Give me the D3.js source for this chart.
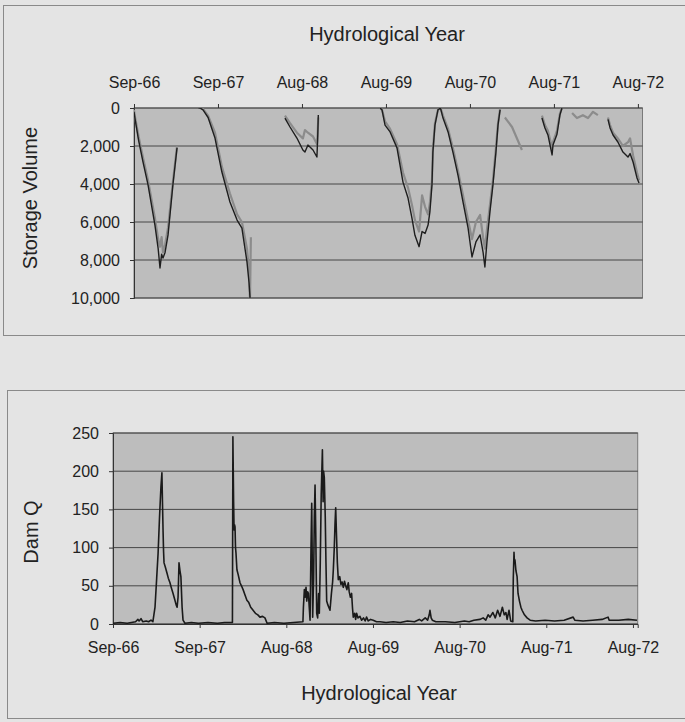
<!DOCTYPE html>
<html>
<head>
<meta charset="utf-8">
<script src="https://cdn.jsdelivr.net/npm/d3@7"></script>
<style>
    body { margin: 0; background: #e4e4e4; }
    text { font-family: "Liberation Sans", Arial, sans-serif; fill: #222; }
</style>
</head>
<body>
<div id="chart"></div>
<script>
// day index counted from 1 Sep 1966, one label every 365 rows
var tickDays = [0, 365, 730, 1095, 1460, 1825, 2190];
var tickLabels = ["Sep-66", "Sep-67", "Aug-68", "Aug-69", "Aug-70", "Aug-71", "Aug-72"];
var storageTicks = [0, 2000, 4000, 6000, 8000, 10000];
var damTicks = [0, 50, 100, 150, 200, 250];

// storage volume, two series (null = gap in record)
var storageDays = [0, 4, 20, 39, 61, 91, 105, 113, 120, 126, 135, 148, 169, 187, 190,
    280, 287, 300, 322, 352, 382, 417, 448, 469, 491, 500, 504, 508, 512,
    656, 678, 708, 734, 743, 756, 778, 795, 798, 801, 805,
    1070, 1078, 1091, 1113, 1143, 1169, 1191, 1208, 1221, 1239, 1252, 1265, 1278, 1286, 1295, 1299, 1308, 1321, 1332,
    1343, 1365, 1386, 1408, 1430, 1452, 1469, 1486, 1504, 1517, 1525, 1534, 1547, 1560, 1573, 1582, 1591, 1600,
    1612, 1643, 1686, 1700,
    1773, 1786, 1799, 1817, 1821, 1838, 1851, 1860, 1880,
    1904, 1925, 1951, 1973, 1995, 2016, 2030,
    2060, 2069, 2082, 2103, 2125, 2147, 2156, 2169, 2186, 2195];
var storageSim = [200, 530, 1700, 2840, 4050, 6160, 7400, 8420, 7700, 7900, 7600, 6680, 4050, 2100, null,
    0, 0, 100, 500, 1580, 3370, 4950, 5900, 6320, 8100, 9200, 9950, 10800, null,
    530, 1000, 1580, 2210, 2320, 1950, 2210, 2580, 1700, 370, null,
    0, 100, 900, 1260, 2100, 3900, 4740, 5800, 6700, 7300, 6500, 6600, 6160, 5470, 4050, 2320, 900, 100, 0,
    530, 1260, 2320, 3530, 4950, 6320, 7840, 7050, 6680, 7580, 8370, 7050, 5470, 4050, 2320, 900, 100, null,
    null, null, null, null,
    530, 1050, 1420, 2470, 1950, 1400, 370, 0, null,
    null, null, null, null, null, null, null,
    600, 1050, 1420, 1790, 2320, 2580, 2400, 2840, 3680, 3950];
var storageObs = [100, 450, 1500, 2600, 3800, 5800, 6900, 7300, 6800, 7600, 7200, 6300, 3900, 2000, null,
    0, 0, 50, 400, 1300, 3100, 4500, 5600, 6000, 7400, 8600, 10200, 6800, null,
    400, 800, 1300, 1600, 1160, 1300, 1500, 1900, 1400, 500, null,
    0, 100, 700, 1100, 1900, 3400, 4200, 5100, 5900, 6500, 4600, 5200, 5600, 5000, 3800, 2200, 800, 100, 0,
    400, 1100, 2100, 3300, 4600, 5900, 6900, 6000, 5630, 6800, 7400, 6400, 5100, 3800, 2100, 800, 50, null,
    500, 1000, 2210, null,
    400, 900, 1200, 2100, 1800, 1200, 300, 0, null,
    260, 530, 380, 530, 200, 380, null,
    500, 900, 1300, 1600, 2000, 1800, 1600, 2500, 3400, 3800];

// dam outflow
var damDays = [0, 30, 60, 95, 105, 110, 118, 125, 140, 150, 160, 168, 177, 184, 190, 196, 202, 206, 209, 211,
    213, 215, 220, 227, 233, 240, 246, 253, 260, 266, 270, 274, 278, 282, 286, 291, 295, 303, 330, 360,
    400, 440, 470, 503, 505, 508, 510, 512, 514, 516, 518, 522, 527, 535, 541, 548, 556, 564, 572, 580,
    590, 600, 610, 619, 630, 640, 649, 680, 720, 760, 800, 802, 806, 809, 813, 816, 820, 823, 827, 830,
    834, 837, 839, 841, 845, 848, 851, 854, 858, 862, 866, 869, 873, 877, 882, 885, 887, 890, 894, 897,
    900, 905, 914, 920, 925, 928, 932, 935, 938, 941, 945, 949, 955, 960, 965, 970, 975, 980, 985, 991,
    995, 1000, 1005, 1009, 1012, 1018, 1022, 1026, 1032, 1040, 1047, 1055, 1062, 1068, 1075, 1085, 1096, 1110, 1125, 1150,
    1180, 1210, 1240, 1270, 1290, 1300, 1315, 1325, 1332, 1335, 1340, 1345, 1360, 1400, 1440, 1480, 1500, 1520, 1545, 1559,
    1570, 1580, 1588, 1600, 1610, 1620, 1630, 1640, 1648, 1655, 1660, 1668, 1675, 1684, 1686, 1689, 1691, 1693, 1697, 1702,
    1706, 1712, 1718, 1723, 1733, 1744, 1757, 1780, 1820, 1860, 1900, 1938, 1945, 1980, 2020, 2060, 2085, 2090, 2130, 2170, 2207];
var damQ = [1, 2, 1, 3, 6, 4, 7, 3, 4, 3, 5, 3, 22, 60, 93, 140, 180, 198, 150, 120,
    95, 80, 75, 67, 60, 54, 47, 40, 32, 25, 22, 35, 80, 70, 62, 22, 5, 1, 2, 1,
    2, 1, 2, 2, 245, 160, 123, 130, 127, 100, 93, 71, 65, 54, 50, 45, 38, 31, 28, 22,
    18, 14, 12, 9, 10, 8, 1, 2, 1, 2, 3, 22, 45, 35, 48, 30, 42, 40, 20, 5,
    100, 158, 90, 9, 60, 140, 182, 120, 14, 8, 40, 14, 80, 170, 228, 160, 200, 192, 140, 80,
    30, 25, 18, 40, 55, 71, 100, 130, 152, 120, 80, 58, 62, 52, 55, 48, 56, 50, 45, 54,
    42, 35, 40, 20, 9, 14, 6, 14, 8, 10, 5, 8, 4, 9, 4, 6, 5, 3, 3, 2,
    3, 2, 4, 3, 6, 4, 8, 5, 12, 18, 8, 5, 3, 3, 2, 4, 3, 5, 6, 8,
    5, 12, 9, 15, 8, 18, 10, 22, 12, 15, 6, 18, 4, 3, 60, 94, 80, 84, 70, 62,
    40, 30, 22, 18, 12, 8, 5, 4, 5, 4, 5, 9, 5, 4, 5, 6, 9, 5, 5, 6, 5];

var width = 685, height = 722;
var plotFill = "#bdbdbd";

var svg = d3.select("#chart").append("svg")
    .attr("width", width)
    .attr("height", height);

function drawFrame(x, y, w, h) {
    svg.append("rect")
        .attr("x", x).attr("y", y)
        .attr("width", w).attr("height", h)
        .attr("fill", "none")
        .attr("stroke", "#8a8a8a")
        .attr("stroke-width", 1);
}

function drawPlot(xScale, yScale, ticks, id) {
    var r = xScale.range(), yr = yScale.range();
    var top = Math.min(yr[0], yr[1]), bottom = Math.max(yr[0], yr[1]);
    svg.append("rect")
        .attr("x", r[0]).attr("y", top)
        .attr("width", r[1] - r[0]).attr("height", bottom - top)
        .attr("fill", plotFill)
        .attr("stroke", "#7a7a7a");
    svg.append("g").selectAll("line")
        .data(ticks)
        .enter().append("line")
        .attr("x1", r[0]).attr("x2", r[1])
        .attr("y1", function (d) { return yScale(d); })
        .attr("y2", function (d) { return yScale(d); })
        .attr("stroke", "#2a2a2a")
        .attr("stroke-width", 0.8);
    svg.append("clipPath").attr("id", id)
        .append("rect")
        .attr("x", r[0]).attr("y", top)
        .attr("width", r[1] - r[0]).attr("height", bottom - top);
}

function styleAxis(g) {
    g.selectAll("path, line").attr("stroke", "#333");
    g.selectAll("text")
        .style("font-size", "16px")
        .attr("fill", "#222");
}

// ---------- storage volume ----------
var x1 = d3.scaleLinear().domain([0, 2210]).range([134, 642.5]);
var y1 = d3.scaleLinear().domain([0, 10000]).range([108, 298]);

drawFrame(3.5, 5.5, 700, 330);
drawPlot(x1, y1, storageTicks, "clip1");

svg.append("g")
    .attr("transform", "translate(0," + y1(0) + ")")
    .call(d3.axisTop(x1).tickValues(tickDays)
        .tickFormat(function (d, i) { return tickLabels[i]; })
        .tickSize(4).tickPadding(16))
    .call(styleAxis)
    .call(function (g) { g.select(".domain").remove(); });

svg.append("g")
    .attr("transform", "translate(" + x1.range()[0] + ",0)")
    .call(d3.axisLeft(y1).tickValues(storageTicks)
        .tickFormat(d3.format(",")).tickSize(4).tickPadding(10))
    .call(styleAxis);

var storageLine = function (values) {
    return d3.line()
        .defined(function (d, i) { return values[i] !== null; })
        .x(function (d, i) { return x1(storageDays[i]); })
        .y(function (d, i) { return y1(values[i]); });
};

svg.append("path")
    .datum(storageDays)
    .attr("clip-path", "url(#clip1)")
    .attr("d", storageLine(storageObs))
    .attr("fill", "none")
    .attr("stroke", "#8c8c8c")
    .attr("stroke-width", 2.2)
    .attr("stroke-linejoin", "round");

svg.append("path")
    .datum(storageDays)
    .attr("clip-path", "url(#clip1)")
    .attr("d", storageLine(storageSim))
    .attr("fill", "none")
    .attr("stroke", "#1e1e1e")
    .attr("stroke-width", 1.4)
    .attr("stroke-linejoin", "round");

svg.append("text")
    .attr("x", 387).attr("y", 41)
    .attr("text-anchor", "middle")
    .style("font-size", "20px")
    .text("Hydrological Year");

svg.append("text")
    .attr("transform", "translate(37,198) rotate(-90)")
    .attr("text-anchor", "middle")
    .style("font-size", "20px")
    .text("Storage Volume");

// ---------- dam outflow ----------
var x2 = d3.scaleLinear().domain([0, 2210]).range([113, 637.7]);
var y2 = d3.scaleLinear().domain([0, 250]).range([624, 433]);

drawFrame(7.5, 390.5, 700, 328);
drawPlot(x2, y2, damTicks, "clip2");

svg.append("g")
    .attr("transform", "translate(0," + y2(0) + ")")
    .call(d3.axisBottom(x2).tickValues(tickDays)
        .tickFormat(function (d, i) { return tickLabels[i]; })
        .tickSize(4).tickPadding(14))
    .call(styleAxis);

svg.append("g")
    .attr("transform", "translate(" + x2.range()[0] + ",0)")
    .call(d3.axisLeft(y2).tickValues(damTicks).tickSize(4).tickPadding(10))
    .call(styleAxis);

svg.append("path")
    .datum(damDays)
    .attr("clip-path", "url(#clip2)")
    .attr("d", d3.line()
        .x(function (d) { return x2(d); })
        .y(function (d, i) { return y2(damQ[i]); }))
    .attr("fill", "none")
    .attr("stroke", "#1a1a1a")
    .attr("stroke-width", 1.6)
    .attr("stroke-linejoin", "round");

svg.append("text")
    .attr("x", 379).attr("y", 700)
    .attr("text-anchor", "middle")
    .style("font-size", "20px")
    .text("Hydrological Year");

svg.append("text")
    .attr("transform", "translate(38,532) rotate(-90)")
    .attr("text-anchor", "middle")
    .style("font-size", "20px")
    .text("Dam Q");
</script>
</body>
</html>
